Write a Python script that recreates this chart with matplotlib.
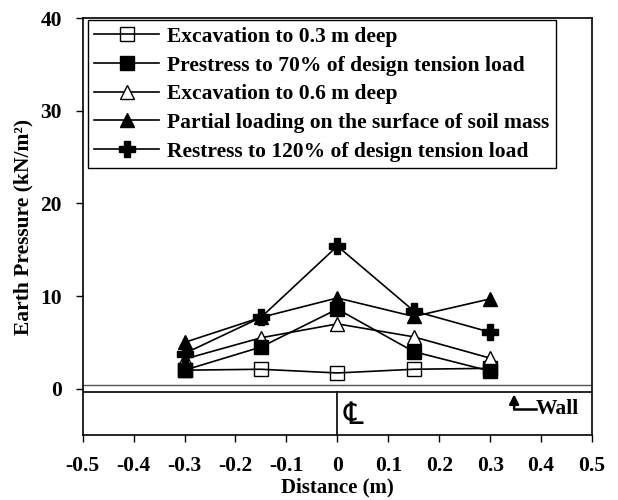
import matplotlib
matplotlib.use("Agg")
import matplotlib.pyplot as plt

plt.rcParams['font.family'] = ['Liberation Serif', 'DejaVu Serif', 'DejaVu Sans']
plt.rcParams['font.weight'] = 'bold'

distance = [-0.3, -0.15, 0.0, 0.15, 0.3]
exc_03 = [2.0, 2.1, 1.7, 2.1, 2.2]
prestress_70 = [2.0, 4.5, 8.6, 4.0, 1.9]
exc_06 = [3.2, 5.5, 7.0, 5.6, 3.3]
partial_load = [5.0, 7.7, 9.8, 7.8, 9.7]
restress_120 = [3.8, 7.7, 15.4, 8.4, 6.1]

labels = ["Excavation to 0.3 m deep",
          "Prestress to 70% of design tension load",
          "Excavation to 0.6 m deep",
          "Partial loading on the surface of soil mass",
          "Restress to 120% of design tension load"]

xticks = [-0.5, -0.4, -0.3, -0.2, -0.1, 0, 0.1, 0.2, 0.3, 0.4, 0.5]
xticklabels = ["-0.5", "-0.4", "-0.3", "-0.2", "-0.1", "0", "0.1", "0.2", "0.3", "0.4", "0.5"]
yticks = [0, 10, 20, 30, 40]

fig = plt.figure(figsize=(6.18, 5.0), dpi=100)
ax = fig.add_axes([0.1338, 0.13, 0.958 - 0.1338, 0.9634 - 0.13])

lw = 1.2
ax.plot(distance, exc_03, color='black', lw=lw, marker='s', ms=10, mfc='none', mec='black', mew=1.0, label=labels[0], zorder=3)
ax.plot(distance, prestress_70, color='black', lw=lw, marker='s', ms=10, mfc='black', mec='black', label=labels[1], zorder=4)
ax.plot(distance, exc_06, color='black', lw=lw, marker='^', ms=10, mfc='white', mec='black', mew=1.0, label=labels[2], zorder=3)
ax.plot(distance, partial_load, color='black', lw=lw, marker='^', ms=10, mfc='black', mec='black', label=labels[3], zorder=4)
ax.plot(distance, restress_120, color='black', lw=lw, marker='P', ms=11, mfc='black', mec='black', label=labels[4], zorder=4)

# ground surface / wall schematic
ax.axhline(0.45, color='#555555', lw=1.0, zorder=1)
ax.axhline(-0.35, color='black', lw=1.2, zorder=1)
ax.plot([0, 0], [-5, -0.35], color='black', lw=1.2, zorder=1)
ax.text(0.012, -2.9, "\u2104", fontsize=22, fontweight='normal', ha='left', va='center',
        family=['DejaVu Serif', 'DejaVu Sans'])

ax.annotate("", xy=(0.347, -0.6), xytext=(0.347, -2.2),
            arrowprops=dict(arrowstyle='-|>', color='black', lw=1.8, mutation_scale=14,
                            shrinkA=0, shrinkB=0))
ax.plot([0.347, 0.39], [-2.2, -2.2], color='black', lw=1.8)
ax.text(0.39, -2.2, "Wall", fontsize=15.5, fontweight='bold', ha='left', va='center')

ax.set_xlim(-0.5, 0.5)
ax.set_ylim(-5, 40)
ax.set_xticks(xticks)
ax.set_xticklabels(xticklabels)
ax.set_yticks(yticks)
ax.tick_params(direction='out', length=5, width=1, labelsize=15.5, pad=10)
for lab in ax.get_xticklabels() + ax.get_yticklabels():
    lab.set_fontweight('bold')
for s in ax.spines.values():
    s.set_linewidth(1.2)

ax.set_xlabel("Distance (m)", fontsize=15, fontweight='bold', labelpad=1)
ax.set_ylabel("Earth Pressure (kN/m²)", fontsize=15.5, fontweight='bold', labelpad=5)

leg = ax.legend(loc='upper left', bbox_to_anchor=(0.01, 0.995), frameon=True, fancybox=False,
                edgecolor='black', fontsize=15.5, handlelength=3.0, handletextpad=0.4,
                labelspacing=0.4, borderpad=0.3, borderaxespad=0.0, framealpha=1)
leg.get_frame().set_linewidth(1.0)
for t in leg.get_texts():
    t.set_fontweight('bold')

fig.savefig("out.png", dpi=100)
